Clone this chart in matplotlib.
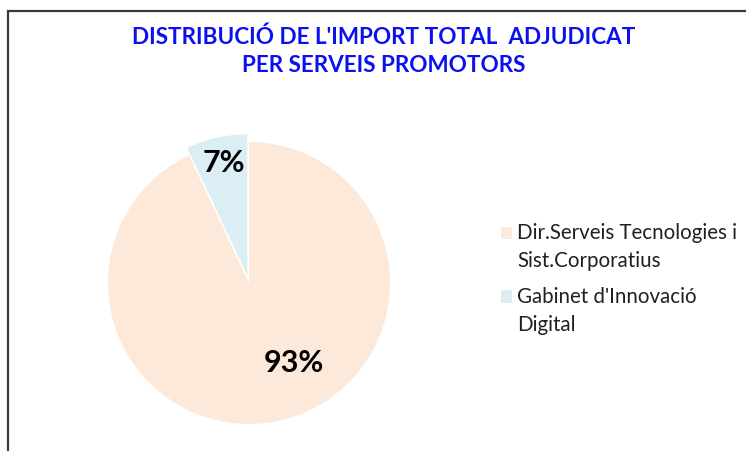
import matplotlib
matplotlib.use("Agg")
import matplotlib.pyplot as plt
from matplotlib.patches import Patch, Rectangle
from matplotlib.legend_handler import HandlerPatch

W, H = 746, 452
title = "DISTRIBUCIÓ DE L'IMPORT TOTAL  ADJUDICAT\nPER SERVEIS PROMOTORS"
categories = ["Dir.Serveis Tecnologies i\nSist.Corporatius", "Gabinet d'Innovació\nDigital"]
values = [93, 7]
pct_labels = ["93%", "7%"]
colors = ["#FCE9DA", "#DAEEF3"]
explode = [0.0, 0.055]
label_pos = [(0.32, -0.56), (-0.18, 0.86)]

fig = plt.figure(figsize=(W / 100, H / 100), dpi=100)
fig.patch.set_facecolor("white")

# chart frame
fig.add_artist(Rectangle((8 / W, -0.05), 1.0, (H - 12) / H + 0.05, transform=fig.transFigure,
                         fill=False, edgecolor="#3a3a3a", linewidth=1.6, clip_on=False))

fig.text(384 / W, 1 - 51 / H, title, ha="center", va="center", color="#0A10F0",
         fontsize=16.2, fontweight="bold", family=["Lato", "DejaVu Sans"], linespacing=1.4)

cx, cy, r = 249, 284, 141
ax = fig.add_axes([(cx - r) / W, (H - cy - r) / H, 2 * r / W, 2 * r / H])
wedges, _ = ax.pie(values, colors=colors, startangle=90, counterclock=False, explode=explode,
                   radius=1.0, wedgeprops=dict(linewidth=0))
for w in wedges:
    w.set_clip_on(False)
ax.set_xlim(-1, 1)
ax.set_ylim(-1, 1)
ax.set_aspect("equal")
ax.axis("off")

for lab, (x, y) in zip(pct_labels, label_pos):
    ax.text(x, y, lab, ha="center", va="center", fontsize=22, fontweight="bold",
            color="black", family=["Lato", "DejaVu Sans"])


def top_aligned_square(legend, orig_handle, xdescent, ydescent, width, height, fontsize):
    # align the key with the first line of a two-line label
    shift = 0.68 * fontsize
    return Rectangle((-xdescent, -ydescent + shift), width, height)


handles = [Patch(facecolor=c, edgecolor="none") for c in colors]
leg = fig.legend(handles, categories, loc="upper left", bbox_to_anchor=(482 / W, 1 - 205 / H),
                 frameon=False, prop=dict(family="Lato", size=14.8), handlelength=0.55,
                 handleheight=0.55, handletextpad=0.25, labelspacing=0.75,
                 handler_map={Patch: HandlerPatch(patch_func=top_aligned_square)})
for t in leg.get_texts():
    t.set_color("#202020")
    t.set_linespacing(1.5)

fig.savefig("out.png", dpi=100)
